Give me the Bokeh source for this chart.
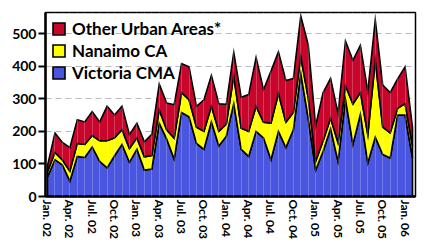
from bokeh.plotting import figure
from bokeh.models import Legend, LegendItem, FixedTicker, Grid, Range1d
from bokeh.embed import file_html
from bokeh.resources import INLINE

# Monthly, Jan 2002 .. Feb 2006
month_idx = list(range(50))
tick_pos = [0, 3, 6, 9, 12, 15, 18, 21, 24, 27, 30, 33, 36, 39, 42, 45, 48]
tick_labels = ["Jan. 02", "Apr. 02", "Jul. 02", "Oct. 02",
               "Jan. 03", "Apr. 03", "Jul. 03", "Oct. 03",
               "Jan. 04", "Apr. 04", "Jul. 04", "Oct. 04",
               "Jan. 05", "Apr. 05", "Jul. 05", "Oct. 05", "Jan. 06"]

victoria = [60, 113, 97, 47, 123, 120, 152, 108, 88, 125,
            160, 105, 145, 81, 84, 225, 176, 115, 258, 245,
            163, 145, 229, 155, 185, 285, 145, 123, 200, 180,
            113, 200, 150, 205, 377, 240, 81, 139, 208, 108,
            298, 160, 252, 103, 182, 129, 118, 250, 250, 118]
nanaimo = [16, 22, 15, 31, 40, 40, 35, 63, 83, 55,
           45, 42, 35, 41, 42, 41, 29, 64, 61, 52,
           50, 55, 48, 45, 37, 85, 65, 77, 77, 48,
           112, 116, 78, 53, 52, 63, 27, 32, 32, 57,
           42, 124, 67, 87, 236, 84, 77, 21, 35, 37]
other = [19, 60, 54, 72, 73, 69, 74, 58, 106, 70,
         72, 43, 45, 46, 65, 79, 82, 103, 89, 101,
         64, 97, 95, 85, 61, 72, 95, 113, 150, 100,
         160, 128, 128, 104, 125, 163, 110, 148, 123, 90,
         137, 134, 145, 132, 124, 129, 124, 90, 113, 57]

series = [("Victoria CMA", victoria, "#4A56E0"),
          ("Nanaimo CA", nanaimo, "#FFFF00"),
          ("Other Urban Areas*", other, "#C8062C")]

FONT = "Lato"

p = figure(width=429, height=246, output_backend="svg", toolbar_location=None,
           x_range=Range1d(-0.27, 49.4), y_range=Range1d(0, 565),
           min_border_left=45, min_border_right=14, min_border_top=12, min_border_bottom=50)
p.background_fill_color = "white"
p.border_fill_color = "white"
p.outline_line_color = "black"
p.outline_line_width = 1.5

# horizontal dashed grid
p.xgrid.visible = False
p.ygrid.ticker = FixedTicker(ticks=[100, 200, 300, 400, 500])
p.ygrid.grid_line_color = "#BBBBBB"
p.ygrid.grid_line_dash = "6 4"
p.ygrid.grid_line_width = 1.2

# stacked layers as outlined patches
renderers = {}
base = [0] * len(month_idx)
for name, vals, col in series:
    top = [b + v for b, v in zip(base, vals)]
    xs = month_idx + month_idx[::-1]
    ys = top + base[::-1]
    r = p.patch(xs, ys, fill_color=col, line_color="black", line_width=1.6,
                line_join="miter")
    renderers[name] = r
    base = top

# faint monthly vertical lines over the areas
vgrid = Grid(dimension=0, ticker=FixedTicker(ticks=month_idx[1:-1]),
             grid_line_color="white", grid_line_alpha=0.22, grid_line_width=1)
vgrid.level = "overlay"
p.add_layout(vgrid)

# axes
p.yaxis.ticker = FixedTicker(ticks=[0, 100, 200, 300, 400, 500])
p.yaxis.axis_line_width = 2.5
p.yaxis.major_tick_line_width = 2
p.yaxis.major_tick_out = 7
p.yaxis.major_tick_in = 0
p.yaxis.minor_tick_line_color = None
p.yaxis.major_label_text_font = FONT
p.yaxis.major_label_text_font_style = "bold"
p.yaxis.major_label_text_font_size = "14px"
p.yaxis.major_label_text_color = "black"
p.yaxis.major_label_standoff = 2

p.xaxis.ticker = FixedTicker(ticks=tick_pos)
p.xaxis.major_label_overrides = {t: l for t, l in zip(tick_pos, tick_labels)}
p.xaxis.major_label_orientation = "vertical"
p.xaxis.axis_line_width = 2.5
p.xaxis.major_tick_line_color = None
p.xaxis.major_tick_out = 0
p.xaxis.major_tick_in = 0
p.xaxis.minor_tick_line_color = None
p.xaxis.major_label_text_font = FONT
p.xaxis.major_label_text_font_style = "bold"
p.xaxis.major_label_text_font_size = "12px"
p.xaxis.major_label_text_color = "black"
p.xaxis.major_label_standoff = 3

legend = Legend(items=[
    LegendItem(label="Other Urban Areas*", renderers=[renderers["Other Urban Areas*"]]),
    LegendItem(label="Nanaimo CA", renderers=[renderers["Nanaimo CA"]]),
    LegendItem(label="Victoria CMA", renderers=[renderers["Victoria CMA"]]),
], location="top_left")
legend.background_fill_alpha = 0
legend.border_line_color = None
legend.margin = 6
legend.padding = 0
legend.spacing = 1
legend.glyph_width = 15
legend.glyph_height = 15
legend.label_height = 15
legend.label_standoff = 6
legend.label_text_font = FONT
legend.label_text_font_style = "bold"
legend.label_text_font_size = "17px"
legend.label_text_color = "black"
p.add_layout(legend)

open("out.html", "w").write(file_html(p, INLINE))
